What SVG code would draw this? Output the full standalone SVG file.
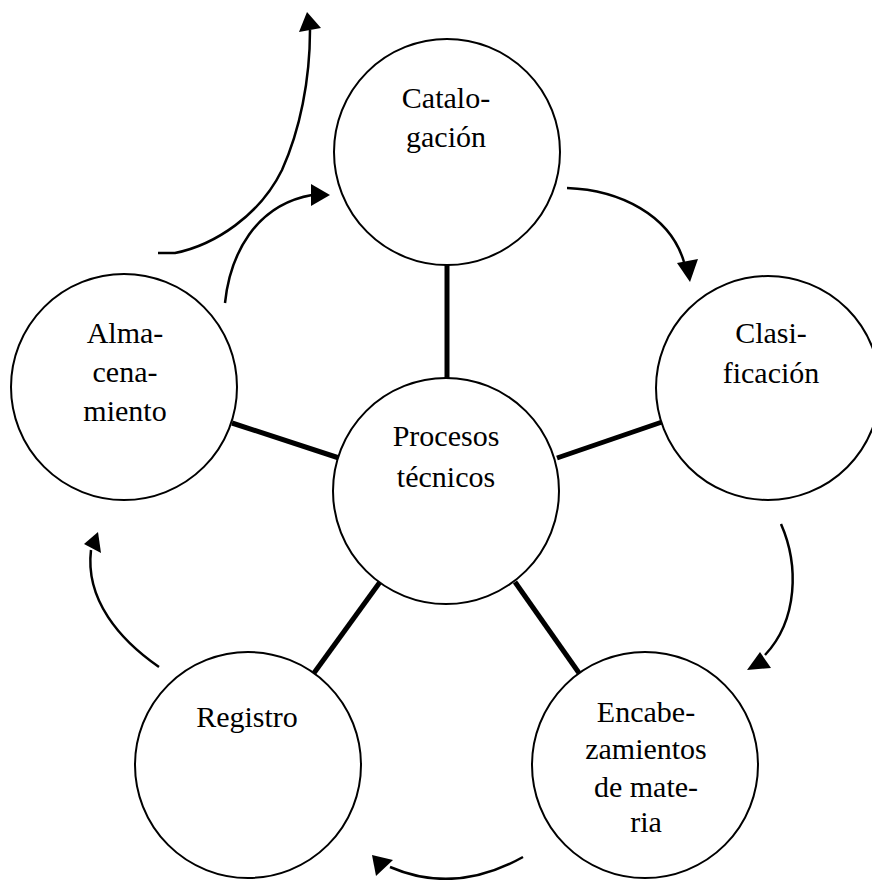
<svg xmlns="http://www.w3.org/2000/svg" width="872" height="880" viewBox="0 0 872 880">
<style>
.node{fill:#fff;stroke:#000;stroke-width:2}
.lbl{font-family:"Liberation Serif","Times New Roman",serif;font-size:30px;fill:#000;text-anchor:middle}
.spoke{stroke:#000;stroke-width:5;fill:none}
.arc{stroke:#000;stroke-width:2.5;fill:none}
.head{fill:#000;stroke:none}
</style>
<rect width="872" height="880" fill="#fff"/>
<g id="connectors">
<line class="spoke" x1="447" y1="265" x2="447" y2="378"/>
<line class="spoke" x1="232" y1="423" x2="339" y2="458"/>
<line class="spoke" x1="557" y1="458" x2="662" y2="422"/>
<line class="spoke" x1="314" y1="673" x2="380" y2="582"/>
<line class="spoke" x1="579" y1="673" x2="515" y2="582"/>
<path class="arc" d="M158,253 L175,253 C215,245 260,215 282,170 C300,130 310,80 310,30"/>
<polygon class="head" points="307,12 299,32 321,28"/>
<path class="arc" d="M225,303 C230,255 255,205 312,195"/>
<polygon class="head" points="330,195 311,184 311,206"/>
<path class="arc" d="M567,188 C620,190 670,215 684,262"/>
<polygon class="head" points="690,282 677,263 698,259"/>
<path class="arc" d="M781,524 C799,565 798,620 765,655"/>
<polygon class="head" points="747,670 760,652 771,668"/>
<path class="arc" d="M523,857 Q455,895 390,867"/>
<polygon class="head" points="372,855 376,876 393,860"/>
<path class="arc" d="M159,667 C120,640 85,600 91,550"/>
<polygon class="head" points="98,532 84,544 101,553"/>
</g>
<g id="catalogacion">
<circle class="node" cx="447" cy="152" r="113"/>
<text class="lbl" x="446" y="108">Catalo-</text>
<text class="lbl" x="446" y="147">gación</text>
</g>
<g id="clasificacion">
<circle class="node" cx="768" cy="388" r="112"/>
<text class="lbl" x="771" y="343">Clasi-</text>
<text class="lbl" x="771" y="383">ficación</text>
</g>
<g id="almacenamiento">
<circle class="node" cx="124" cy="387" r="113"/>
<text class="lbl" x="125" y="343">Alma-</text>
<text class="lbl" x="125" y="382">cena-</text>
<text class="lbl" x="125" y="421">miento</text>
</g>
<g id="procesos">
<circle class="node" cx="446" cy="491" r="113"/>
<text class="lbl" x="446" y="446">Procesos</text>
<text class="lbl" x="446" y="487">técnicos</text>
</g>
<g id="registro">
<circle class="node" cx="248" cy="765" r="113"/>
<text class="lbl" x="247" y="727">Registro</text>
</g>
<g id="encabezamientos">
<circle class="node" cx="645" cy="765" r="113"/>
<text class="lbl" x="646" y="722">Encabe-</text>
<text class="lbl" x="646" y="759">zamientos</text>
<text class="lbl" x="646" y="797">de mate-</text>
<text class="lbl" x="646" y="832">ria</text>
</g>
</svg>
